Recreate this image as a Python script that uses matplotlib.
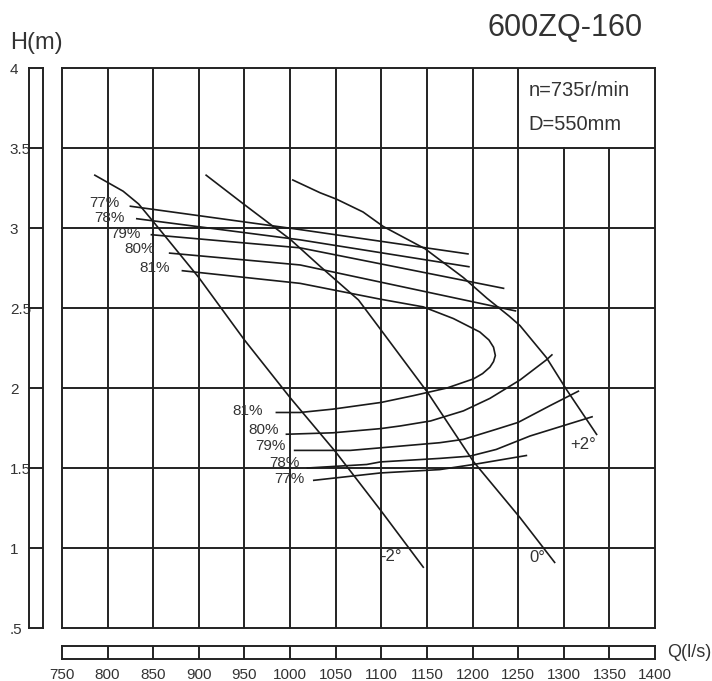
import matplotlib.pyplot as plt

plt.rcParams['font.family'] = ['Liberation Sans', 'DejaVu Sans']

INK = '#222222'
TXT = '#333333'
NARROW = ['Liberation Sans Narrow', 'Liberation Sans', 'DejaVu Sans']

# axes
q_ticks = list(range(750, 1401, 50))
h_ticks = [0.5, 1.0, 1.5, 2.0, 2.5, 3.0, 3.5, 4.0]
h_labels = ['.5', '1', '1.5', '2', '2.5', '3', '3.5', '4']

# blade angle curves (Q in l/s, H in m)
q_m2 = [786, 817, 834, 850, 900, 950, 1000, 1050, 1100, 1146]
h_m2 = [3.33, 3.23, 3.15, 3.04, 2.69, 2.30, 1.94, 1.60, 1.23, 0.88]
q_0 = [908, 949, 1000, 1033, 1075, 1100, 1151, 1201, 1252, 1290]
h_0 = [3.33, 3.15, 2.93, 2.76, 2.55, 2.36, 1.97, 1.54, 1.19, 0.91]
q_p2 = [1003, 1033, 1051, 1080, 1102, 1148, 1190, 1216, 1240, 1252, 1281, 1303, 1336]
h_p2 = [3.30, 3.22, 3.18, 3.10, 3.01, 2.87, 2.69, 2.56, 2.45, 2.39, 2.19, 1.99, 1.71]

# efficiency curves
q_e77a = [825, 1011, 1195]
h_e77a = [3.136, 2.99, 2.838]
q_e78a = [832, 1011, 1196]
h_e78a = [3.058, 2.926, 2.758]
q_e79a = [848, 1011, 1234]
h_e79a = [2.958, 2.876, 2.623]
q_e80a = [868, 1011, 1247]
h_e80a = [2.843, 2.769, 2.482]
q_e81 = [882, 1011, 1099, 1146, 1179, 1208, 1218, 1223, 1225, 1223, 1219,
         1211, 1201, 1172, 1135, 1100, 1047, 1011, 985]
h_e81 = [2.733, 2.654, 2.555, 2.507, 2.434, 2.35, 2.30, 2.255, 2.203, 2.165, 2.13,
         2.09, 2.057, 2.0, 1.952, 1.91, 1.868, 1.847, 1.847]
q_e80b = [996, 1047, 1099, 1121, 1154, 1190, 1219, 1252, 1281, 1287]
h_e80b = [1.711, 1.72, 1.746, 1.763, 1.794, 1.857, 1.935, 2.05, 2.176, 2.207]
q_e79b = [1005, 1066, 1099, 1164, 1190, 1226, 1250, 1285, 1316]
h_e79b = [1.61, 1.61, 1.626, 1.658, 1.679, 1.742, 1.785, 1.89, 1.98]
q_e78b = [1019, 1084, 1099, 1164, 1197, 1226, 1263, 1331]
h_e78b = [1.50, 1.522, 1.538, 1.56, 1.574, 1.616, 1.70, 1.82]
q_e77b = [1026, 1099, 1164, 1201, 1259]
h_e77b = [1.423, 1.469, 1.49, 1.522, 1.578]

eff_labels = ['77%', '78%', '79%', '80%', '81%']
eff_upper_pos = [(796, 3.156), (802, 3.064), (819, 2.961), (835, 2.866), (852, 2.751)]
eff_lower_pos = [(999, 1.433), (994, 1.53), (979, 1.639), (971, 1.738), (954, 1.856)]
angle_labels = ['-2°', '0°', '+2°']
angle_pos = [(1111, 0.946), (1271, 0.94), (1321, 1.65)]

W, H = 712, 681
fig = plt.figure(figsize=(W / 100, H / 100), dpi=100)

# main chart area
ax = fig.add_axes([62 / W, 53 / H, 593 / W, 560 / H])
ax.set_xlim(750, 1400)
ax.set_ylim(0.5, 4.0)
ax.set_xticks([])
ax.set_yticks([])
for s in ax.spines.values():
    s.set_color(INK)
    s.set_linewidth(1.4)

for q in q_ticks[1:-1]:
    top = 3.5 if q > 1250 else 4.0   # parameter box in the upper right
    ax.plot([q, q], [0.5, top], color=INK, lw=1.4)
for h in h_ticks[1:-1]:
    ax.plot([750, 1400], [h, h], color=INK, lw=1.4)

curve_kw = dict(color='#1a1a1a', lw=1.2)
for qs, hs in [(q_m2, h_m2), (q_0, h_0), (q_p2, h_p2),
               (q_e77a, h_e77a), (q_e78a, h_e78a), (q_e79a, h_e79a),
               (q_e80a, h_e80a), (q_e81, h_e81), (q_e80b, h_e80b),
               (q_e79b, h_e79b), (q_e78b, h_e78b), (q_e77b, h_e77b)]:
    ax.plot(qs, hs, **curve_kw)

for lbl, (x, y) in zip(eff_labels, eff_upper_pos):
    ax.text(x, y, lbl, ha='center', va='center', fontsize=11,
            family=NARROW, color=TXT)
for lbl, (x, y) in zip(eff_labels, eff_lower_pos):
    ax.text(x, y, lbl, ha='center', va='center', fontsize=11,
            family=NARROW, color=TXT)
for lbl, (x, y) in zip(angle_labels, angle_pos):
    ax.text(x, y, lbl, ha='center', va='center', fontsize=12,
            family=NARROW, color=TXT)

ax.text(1261, 3.862, 'n=735r/min', ha='left', va='center', fontsize=14.5, color=TXT)
ax.text(1261, 3.65, 'D=550mm', ha='left', va='center', fontsize=14.5, color=TXT)

# left ruler with head scale
axl = fig.add_axes([29.3 / W, 53 / H, 13.4 / W, 560 / H])
axl.set_ylim(0.5, 4.0)
axl.set_xlim(0, 1)
axl.set_xticks([])
for h in h_ticks[1:-1]:
    axl.plot([0, 1], [h, h], color=INK, lw=1.4)
for s in axl.spines.values():
    s.set_color(INK)
    s.set_linewidth(1.4)
axl.set_yticks(h_ticks)
axl.set_yticklabels(h_labels, family=NARROW, fontsize=11, color=TXT)
axl.tick_params(axis='y', length=0, pad=14)
for t in axl.get_yticklabels():
    t.set_horizontalalignment('left')

# bottom ruler with flow scale
axb = fig.add_axes([62 / W, 21.7 / H, 593 / W, 13.3 / H])
axb.set_xlim(750, 1400)
axb.set_ylim(0, 1)
axb.set_yticks([])
for q in q_ticks[1:-1]:
    axb.plot([q, q], [0, 1], color=INK, lw=1.4)
for s in axb.spines.values():
    s.set_color(INK)
    s.set_linewidth(1.4)
axb.set_xticks(q_ticks)
axb.set_xticklabels([str(q) for q in q_ticks], family=NARROW, fontsize=11, color=TXT)
axb.tick_params(axis='x', length=0, pad=6)
axb.text(1.0197, 0.5, 'Q(l/s)', transform=axb.transAxes, ha='left', va='center',
         fontsize=13, color=TXT)

fig.text(10 / W, 1 - 42.5 / H, 'H(m)', ha='left', va='center', fontsize=17, color=TXT)
fig.text(565 / W, 1 - 27.5 / H, '600ZQ-160', ha='center', va='center', fontsize=22,
         color=TXT)

fig.savefig('out.png', dpi=100)
